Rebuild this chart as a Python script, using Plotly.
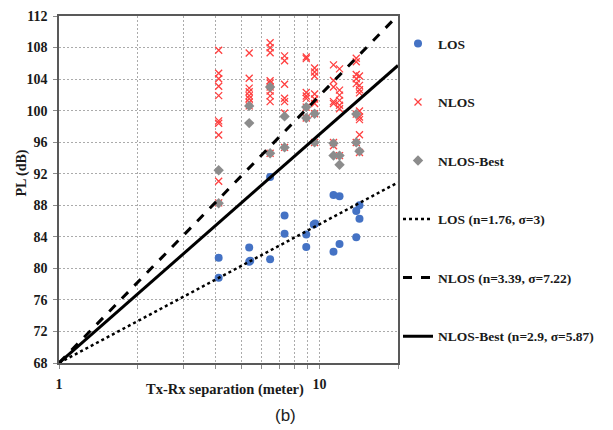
import numpy as np
import plotly.graph_objects as go

# ---- data ----
los_d = [4.1, 4.1, 5.37, 5.37, 5.42, 6.46, 6.46, 7.34, 7.34, 8.89, 8.89, 9.5, 9.62,
         11.31, 11.31, 11.93, 11.93, 13.83, 13.83, 14.23, 14.23]
los_pl = [81.35, 78.8, 82.65, 80.85, 80.95, 91.6, 81.15, 86.7, 84.4, 84.3, 82.7, 85.55, 85.7,
          89.3, 82.1, 89.13, 83.1, 87.28, 83.95, 88.0, 86.3]

nlos_d = ([4.1] * 10 + [5.37] * 8 + [6.46] * 10 + [7.34] * 7 + [8.89] * 7 + [9.57] * 8
          + [11.31] * 7 + [11.93] * 7 + [13.83] * 7 + [14.23] * 9)
nlos_pl = [107.65, 104.75, 104.05, 103.1, 101.9, 98.7, 98.4, 96.9, 91.05, 88.3,
           107.3, 104.1, 102.85, 102.4, 101.9, 101.5, 101.07, 100.6,
           108.6, 107.97, 107.35, 103.8, 103.5, 103.0, 102.5, 101.87, 101.14, 94.6,
           106.94, 106.32, 103.34, 101.56, 101.14, 99.7, 95.34,
           106.8, 106.6, 102.3, 101.85, 101.55, 100.45, 99.07,
           105.4, 104.9, 104.4, 102.1, 101.47, 100.9, 99.6, 95.97,
           105.8, 103.83, 103.0, 101.14, 100.9, 95.55, 95.97,
           105.3, 102.6, 101.97, 101.3, 100.68, 100.23, 94.3,
           106.65, 106.2, 104.58, 104.04, 103.42, 99.56, 95.97,
           104.4, 103.2, 102.65, 102.25, 99.95, 99.2, 98.86, 96.95, 94.7]

best_d = [4.1, 4.1, 5.37, 5.37, 6.46, 6.46, 7.34, 7.34, 8.89, 8.89, 9.57, 9.57,
          11.31, 11.31, 11.93, 11.93, 13.83, 13.83, 14.23]
best_pl = [92.45, 88.25, 100.6, 98.42, 103.0, 94.6, 99.27, 95.34, 100.45, 99.07, 99.6, 95.97,
           95.85, 94.3, 94.3, 93.14, 99.56, 95.97, 94.85]

# path-loss model fits: PL = PL0 + 10 n log10(d)
fit_names = ["LOS (n=1.76, σ=3)", "NLOS (n=3.39, σ=7.22)", "NLOS-Best (n=2.9, σ=5.87)"]
fit_n = [1.76, 3.39, 2.9]
fit_pl0 = 68.0
fit_dash = ["dot", "dash", "solid"]
fit_d = np.array([1.0, 20.0])

x_ticks = [1, 2, 3, 4, 5, 6, 7, 8, 9, 10, 20]
x_ticktext = ["1", "", "", "", "", "", "", "", "", "10", ""]
y_ticks = list(range(68, 113, 4))

FONT = "Liberation Serif"
TXT = "#1a1a1a"
fig = go.Figure()
fig.add_trace(go.Scatter(x=los_d, y=los_pl, mode="markers", name="LOS", legendgroup="a",
                         marker=dict(symbol="circle", size=8, color="#4472C4")))
fig.add_trace(go.Scatter(x=nlos_d, y=nlos_pl, mode="markers", name="NLOS", legendgroup="b",
                         marker=dict(symbol="x-thin", size=7, color="#FF4040",
                                     line=dict(color="#FF4040", width=1.3))))
fig.add_trace(go.Scatter(x=best_d, y=best_pl, mode="markers", name="NLOS-Best", legendgroup="c",
                         marker=dict(symbol="diamond", size=8, color="#8C8C8C")))
for i in range(3):
    fig.add_trace(go.Scatter(x=fit_d, y=fit_pl0 + 10 * fit_n[i] * np.log10(fit_d), mode="lines",
                             name=fit_names[i], legendgroup="l%d" % i,
                             line=dict(color="black", width=3 if i else 2.5, dash=fit_dash[i])))

grid = dict(showgrid=True, gridcolor="#ABABAB", griddash="2px,2px", gridwidth=1)
axis_common = dict(showline=True, mirror=True, linecolor="#595959", linewidth=1.5,
                   ticks="outside", ticklen=4, tickcolor="#8C8C8C", tickwidth=1,
                   ticklabelstandoff=3,
                   tickfont=dict(family=FONT, size=14, color=TXT, weight="bold"),
                   zeroline=False, **grid)
fig.update_xaxes(type="log", range=[0, np.log10(20)], tickvals=x_ticks, ticktext=x_ticktext,
                 **axis_common)
fig.update_yaxes(range=[68, 112], tickvals=y_ticks, **axis_common)

fig.add_annotation(text="Tx-Rx separation (meter)", xref="paper", yref="paper", x=0.49, y=-0.075,
                   showarrow=False, yanchor="middle",
                   font=dict(family=FONT, size=14.5, color=TXT, weight="bold"))
fig.add_annotation(text="PL (dB)", xref="paper", yref="paper", x=-0.11, y=0.548, textangle=-90,
                   showarrow=False, xanchor="center", yanchor="middle",
                   font=dict(family=FONT, size=14, color=TXT, weight="bold"))
fig.add_annotation(text="(b)", xref="paper", yref="paper", x=0.705, y=-0.15,
                   showarrow=False, yanchor="middle",
                   font=dict(family="Liberation Sans", size=17, color="#222"))

fig.update_layout(
    width=613, height=430, margin=dict(l=59, r=215, t=9, b=67),
    paper_bgcolor="white", plot_bgcolor="white", showlegend=True,
    legend=dict(x=1.0, y=0.965, xanchor="left", yanchor="top", tracegroupgap=38,
                bgcolor="rgba(0,0,0,0)", font=dict(family=FONT, size=13.5, color=TXT, weight="bold")),
)
fig.write_html("out.html")
